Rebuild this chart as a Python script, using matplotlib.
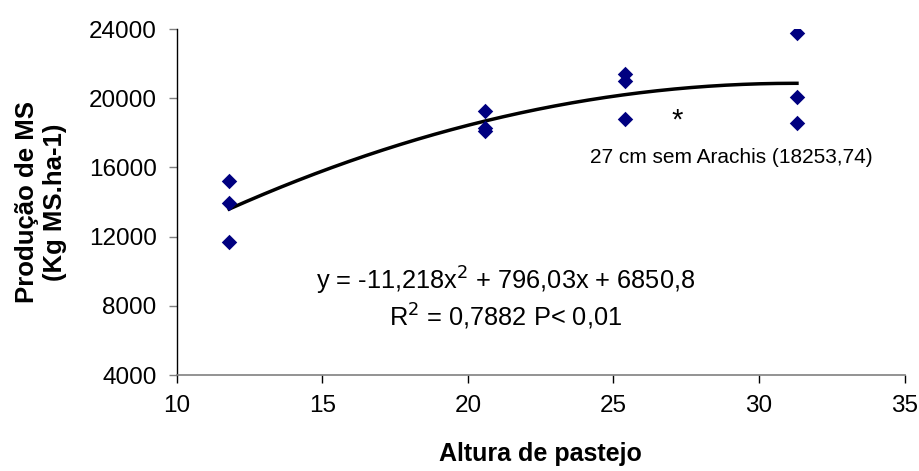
import numpy as np
import matplotlib
matplotlib.use("Agg")
import matplotlib.pyplot as plt

plt.rcParams['font.family'] = ['Liberation Sans', 'DejaVu Sans']

# grazing height (cm) and dry matter yield (kg MS/ha), three plots per height
altura = [11.8, 11.8, 11.8,
          20.6, 20.6, 20.6,
          25.4, 25.4, 25.4,
          31.3, 31.3, 31.3]
producao = [15230, 13960, 11670,
            19260, 18250, 18100,
            21380, 20980, 18780,
            23750, 20090, 18580]

# reference treatment without Arachis
ref_altura = 27
ref_producao = 18253.74

eq_text = "y = -11,218x$^2$ + 796,03x + 6850,8"
r2_text = "R$^2$ = 0,7882 P< 0,01"

fig = plt.figure(figsize=(9.2, 4.71), dpi=100)
ax = fig.add_axes([176.7 / 920, 1 - 375 / 471, 728 / 920, 346 / 471])

ax.scatter(altura, producao, marker='D', s=62, color='#000080', zorder=3,
           linewidths=0)

# second order trend line fitted to the observations
coef = np.polyfit(altura, producao, 2)
xs = np.linspace(min(altura), max(altura), 200)
ax.plot(xs, np.polyval(coef, xs), color='black', lw=2.5, zorder=2)

ax.text(ref_altura, ref_producao, "*", fontsize=21, ha='left', va='baseline')
ax.text(29.03, 16270, "27 cm sem Arachis (18253,74)", fontsize=15,
        ha='center', va='baseline')

ax.text(21.28, 8910, eq_text, fontsize=18.3, ha='center', va='baseline')
ax.text(21.28, 6850, r2_text, fontsize=18.3, ha='center', va='baseline')

ax.set_xlim(10, 35)
ax.set_ylim(4000, 24000)
ax.set_xticks([10, 15, 20, 25, 30, 35])
ax.set_yticks(np.arange(4000, 24001, 4000))

for side in ('top', 'right'):
    ax.spines[side].set_visible(False)
ax.spines['left'].set_linewidth(1.0)
ax.spines['left'].set_color('black')
ax.spines['bottom'].set_linewidth(1.2)
ax.spines['bottom'].set_color('#808080')

ax.tick_params(axis='both', labelsize=17.5, direction='out', length=5.5,
               width=1)
ax.tick_params(axis='x', pad=9, color='black')
ax.tick_params(axis='y', pad=9, color='#808080')

ax.set_xlabel("Altura de pastejo", fontsize=18, fontweight='bold')
ax.xaxis.set_label_coords(0.5, -0.195)
ax.set_ylabel("Produção de MS\n(Kg MS.ha-1)", fontsize=18.5,
              fontweight='bold', multialignment='center', linespacing=1.2)
ax.yaxis.set_label_coords(-0.151, 0.5)

fig.savefig("out.png", dpi=100)
